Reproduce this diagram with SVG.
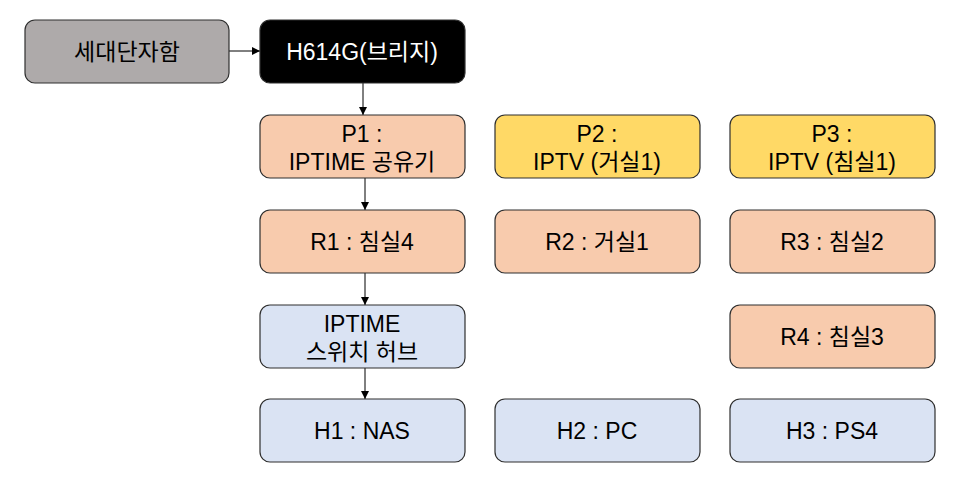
<svg xmlns="http://www.w3.org/2000/svg" width="956" height="487" viewBox="0 0 956 487">
<style>
rect{stroke:#2f2f2f;stroke-width:1.2}
text{font-family:"Liberation Sans","Noto Sans CJK KR",sans-serif;font-size:23px;fill:#000;text-anchor:middle}
.g{fill:#AEAAAA}.k{fill:#000}.p{fill:#F8CBAD}.y{fill:#FFD966}.b{fill:#DAE3F3}
.w{fill:#fff}
.c line{stroke:#000;stroke-width:1;marker-end:url(#a)}
</style>
<defs><marker id="a" markerWidth="8" markerHeight="8" refX="8" refY="4" orient="auto" markerUnits="userSpaceOnUse"><path d="M0,0 L8,4 L0,8 z" fill="#000"/></marker></defs>
<g class="c">
<line x1="229" y1="51" x2="260" y2="51"/>
<line x1="363" y1="83" x2="363" y2="115"/>
<line x1="365" y1="178" x2="365" y2="210"/>
<line x1="365" y1="273" x2="365" y2="305"/>
<line x1="365" y1="368" x2="365" y2="399"/>
</g>
<g id="n0"><rect class="g" x="25" y="20" width="204" height="63" rx="10"/><text x="127" y="60">세대단자함</text></g>
<g id="n1"><rect class="k" x="260" y="20" width="205" height="63" rx="10"/><text class="w" x="362" y="60">H614G(브리지)</text></g>
<g id="p1"><rect class="p" x="260" y="115" width="205" height="63" rx="10"/><text x="362" y="142">P1 :</text><text x="362" y="170">IPTIME 공유기</text></g>
<g id="p2"><rect class="y" x="495" y="115" width="205" height="63" rx="10"/><text x="597" y="142">P2 :</text><text x="597" y="170">IPTV (거실1)</text></g>
<g id="p3"><rect class="y" x="730" y="115" width="205" height="63" rx="10"/><text x="832" y="142">P3 :</text><text x="832" y="170">IPTV (침실1)</text></g>
<g id="r1"><rect class="p" x="260" y="210" width="205" height="63" rx="10"/><text x="362" y="250">R1 : 침실4</text></g>
<g id="r2"><rect class="p" x="495" y="210" width="205" height="63" rx="10"/><text x="597" y="250">R2 : 거실1</text></g>
<g id="r3"><rect class="p" x="730" y="210" width="205" height="63" rx="10"/><text x="832" y="250">R3 : 침실2</text></g>
<g id="sw"><rect class="b" x="260" y="305" width="205" height="63" rx="10"/><text x="362" y="332">IPTIME</text><text x="362" y="360">스위치 허브</text></g>
<g id="r4"><rect class="p" x="730" y="305" width="205" height="63" rx="10"/><text x="832" y="345">R4 : 침실3</text></g>
<g id="h1"><rect class="b" x="260" y="399" width="205" height="63" rx="10"/><text x="362" y="439">H1 : NAS</text></g>
<g id="h2"><rect class="b" x="495" y="399" width="205" height="63" rx="10"/><text x="597" y="439">H2 : PC</text></g>
<g id="h3"><rect class="b" x="730" y="399" width="205" height="63" rx="10"/><text x="832" y="439">H3 : PS4</text></g>
</svg>
